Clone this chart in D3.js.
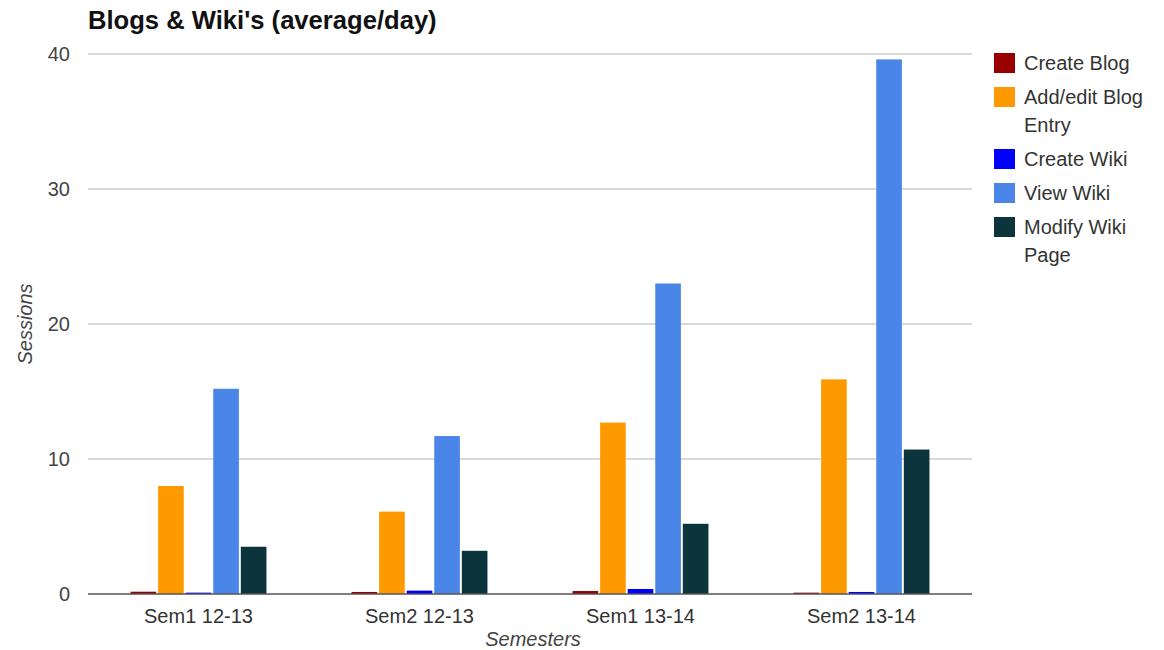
<!DOCTYPE html>
<html>
<head>
<meta charset="utf-8">
<script src="https://cdn.jsdelivr.net/npm/d3@7"></script>
<style>
  html, body { margin: 0; padding: 0; background: #fff; }
  svg { display: block; font-family: Arial, "Liberation Sans", sans-serif; }
</style>
</head>
<body>
<svg id="chart" width="1164" height="650"></svg>
<script>
const categories = ["Sem1 12-13", "Sem2 12-13", "Sem1 13-14", "Sem2 13-14"];
const seriesNames = ["Create Blog", "Add/edit Blog Entry", "Create Wiki", "View Wiki", "Modify Wiki Page"];
const legendLines = [["Create Blog"], ["Add/edit Blog", "Entry"], ["Create Wiki"], ["View Wiki"], ["Modify Wiki", "Page"]];
const seriesColors = ["#990000", "#ff9900", "#0000ff", "#4a86e8", "#0c343d"];
const createBlog = [0.17, 0.15, 0.22, 0.1];
const addEditBlogEntry = [8.0, 6.1, 12.7, 15.9];
const createWiki = [0.1, 0.25, 0.37, 0.15];
const viewWiki = [15.2, 11.7, 23.0, 39.6];
const modifyWikiPage = [3.5, 3.2, 5.2, 10.7];
const yTicks = [0, 10, 20, 30, 40];
const chartTitle = "Blogs & Wiki's (average/day)";
const xTitle = "Semesters";
const yTitle = "Sessions";

const seriesValues = [createBlog, addEditBlogEntry, createWiki, viewWiki, modifyWikiPage];

const svg = d3.select("#chart");
const plotL = 88, plotR = 972, plotT = 54, plotB = 594;

const x0 = d3.scaleBand().domain(categories).range([plotL, plotR])
  .paddingInner(0.385).paddingOuter(0.1925);
const x1 = d3.scaleBand().domain(d3.range(seriesNames.length)).range([0, x0.bandwidth()]).paddingInner(0.07);
const y = d3.scaleLinear().domain([0, 40]).range([plotB, plotT]);

// gridlines
svg.append("g").selectAll("line").data(yTicks.filter(d => d !== 0)).join("line")
  .attr("x1", plotL).attr("x2", plotR)
  .attr("y1", d => y(d)).attr("y2", d => y(d))
  .attr("stroke", "#cccccc").attr("stroke-width", 1.5);

// y tick labels
svg.append("g").selectAll("text").data(yTicks).join("text")
  .attr("x", 70).attr("y", d => y(d)).attr("dy", "0.36em")
  .attr("text-anchor", "end").attr("font-size", 20).attr("fill", "#444")
  .text(d => d);

// bars
const groups = svg.append("g").selectAll("g").data(categories).join("g")
  .attr("transform", d => `translate(${x0(d)},0)`);
groups.selectAll("rect").data((c, ci) => seriesValues.map((vals, si) => ({si, v: vals[ci]}))).join("rect")
  .attr("x", d => x1(d.si)).attr("width", x1.bandwidth())
  .attr("y", d => y(d.v)).attr("height", d => y(0) - y(d.v))
  .attr("fill", d => seriesColors[d.si]);

// baseline
svg.append("line").attr("x1", plotL).attr("x2", plotR).attr("y1", plotB).attr("y2", plotB)
  .attr("stroke", "#555").attr("stroke-width", 1.5);

// x labels
svg.append("g").selectAll("text").data(categories).join("text")
  .attr("x", d => x0(d) + x0.bandwidth() / 2).attr("y", 623)
  .attr("text-anchor", "middle").attr("font-size", 20).attr("fill", "#333")
  .text(d => d);

// axis titles
svg.append("text").attr("x", 533).attr("y", 646).attr("text-anchor", "middle")
  .attr("font-size", 20).attr("font-style", "italic").attr("fill", "#444").text(xTitle);
svg.append("text").attr("transform", `translate(32,${(plotT + plotB) / 2}) rotate(-90)`)
  .attr("text-anchor", "middle").attr("font-size", 20).attr("font-style", "italic").attr("fill", "#444").text(yTitle);

// title
svg.append("text").attr("x", 88).attr("y", 29).attr("font-size", 25.6).attr("font-weight", "bold")
  .attr("fill", "#111").text(chartTitle);

// legend
let ly = 53;
legendLines.forEach((lines, i) => {
  const g = svg.append("g");
  g.append("rect").attr("x", 994).attr("y", ly).attr("width", 21).attr("height", 20).attr("fill", seriesColors[i]);
  lines.forEach((t, li) => {
    g.append("text").attr("x", 1024).attr("y", ly + 17 + li * 28).attr("font-size", 20).attr("fill", "#333").text(t);
  });
  ly += 34 + (lines.length - 1) * 28;
});
</script>
</body>
</html>
